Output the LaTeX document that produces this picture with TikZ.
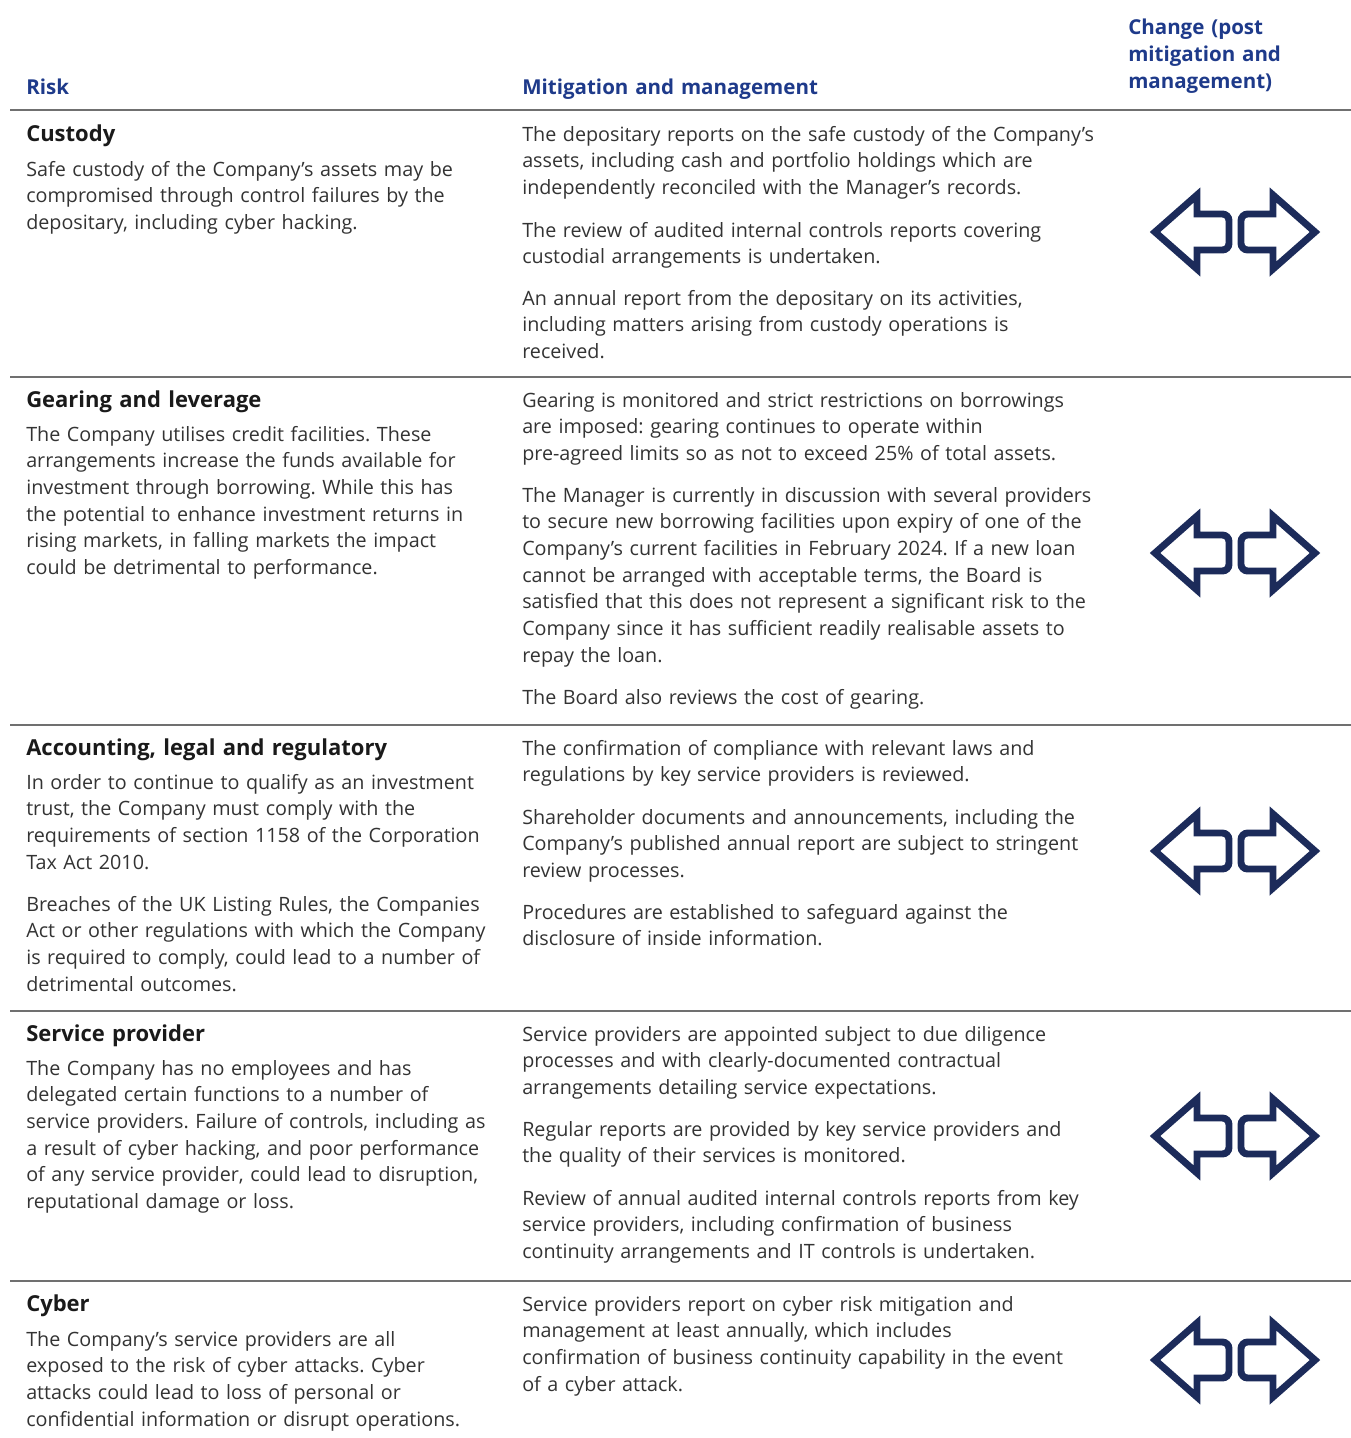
\documentclass[tikz,border=0pt]{standalone}
\usepackage{fontspec}
\setmainfont{Open Sans}
\frenchspacing
\definecolor{hdrblue}{HTML}{1E3A8A}
\definecolor{navy}{HTML}{1C2B5A}
\definecolor{bodytxt}{HTML}{333333}
\definecolor{headtxt}{HTML}{1A1A1A}
\definecolor{rulegray}{HTML}{707070}
\tikzset{
  bodypara/.style={anchor=base west, inner sep=0pt, text width=500pt, align=left,
    font=\fontsize{14.8pt}{20pt}\selectfont, text=bodytxt},
  riskhead/.style={anchor=base west, inner sep=0pt, text width=500pt, align=left,
    font=\fontsize{16.5pt}{20pt}\selectfont\bfseries, text=headtxt},
  colhead/.style={anchor=base west, inner sep=0pt, text width=300pt, align=left,
    font=\fontsize{15.4pt}{20.2pt}\selectfont\bfseries, text=hdrblue},
  sep/.style={draw=rulegray, line width=1.2pt},
  chgicon/.pic={
    \draw[navy, line width=5.2pt, line join=miter, miter limit=10]
      (-80,0) -- (-38,-37) -- (-38,-18) [rounded corners=5pt] -- (-6,-18) -- (-6,18) [sharp corners] -- (-38,18) -- (-38,37) -- cycle;
    \draw[navy, line width=5.2pt, line join=miter, miter limit=10]
      (80,0) -- (38,-37) -- (38,-18) [rounded corners=5pt] -- (6,-18) -- (6,18) [sharp corners] -- (38,18) -- (38,37) -- cycle;
  }
}
\begin{document}
\begin{tikzpicture}[x=0.75pt, y=-0.75pt]
\useasboundingbox (0,0) rectangle (1351,1438);
% column headers
\node[colhead] (hrisk) at (26,94) {Risk};
\node[colhead] (hmit) at (522,94) {Mitigation and management};
\node[colhead] (hchg) at (1128,35) {Change (post\\ mitigation and\\ management)};
% separators
\coordinate (s0a) at (10,110); \coordinate (s0b) at (1351,110);
\coordinate (s1a) at (10,377); \coordinate (s1b) at (1351,377);
\coordinate (s2a) at (10,725); \coordinate (s2b) at (1351,725);
\coordinate (s3a) at (10,1011); \coordinate (s3b) at (1351,1011);
\coordinate (s4a) at (10,1281); \coordinate (s4b) at (1351,1281);
\draw[sep] (s0a) -- (s0b);
\draw[sep] (s1a) -- (s1b);
\draw[sep] (s2a) -- (s2b);
\draw[sep] (s3a) -- (s3b);
\draw[sep] (s4a) -- (s4b);
% Row 1
\node[riskhead] (r1h) at (26,141) {Custody};
\node[bodypara] (r1l) at (26,176) {Safe custody of the Company’s assets may be\\ compromised through control failures by the\\ depositary, including cyber hacking.};
\node[bodypara] (r1a) at (522,141) {The depositary reports on the safe custody of the Company’s\\ assets, including cash and portfolio holdings which are\\ independently reconciled with the Manager’s records.};
\node[bodypara] (r1b) at (522,237) {The review of audited internal controls reports covering\\ custodial arrangements is undertaken.};
\node[bodypara] (r1c) at (522,305) {An annual report from the depositary on its activities,\\ including matters arising from custody operations is\\ received.};
\pic (i1) at (1235,232) {chgicon};
% Row 2
\node[riskhead] (r2h) at (26,407) {Gearing and leverage};
\node[bodypara] (r2l) at (26,441) {The Company utilises credit facilities. These\\ arrangements increase the funds available for\\ investment through borrowing. While this has\\ the potential to enhance investment returns in\\ rising markets, in falling markets the impact\\ could be detrimental to performance.};
\node[bodypara] (r2a) at (522,407) {Gearing is monitored and strict restrictions on borrowings\\ are imposed: gearing continues to operate within\\ pre-agreed limits so as not to exceed 25\% of total assets.};
\node[bodypara] (r2b) at (522,502) {The Manager is currently in discussion with several providers\\ to secure new borrowing facilities upon expiry of one of the\\ Company’s current facilities in February 2024. If a new loan\\ cannot be arranged with acceptable terms, the Board is\\ satisfied that this does not represent a significant risk to the\\ Company since it has sufficient readily realisable assets to\\ repay the loan.};
\node[bodypara] (r2c) at (522,704) {The Board also reviews the cost of gearing.};
\pic (i2) at (1235,553) {chgicon};
% Row 3
\node[riskhead] (r3h) at (26,755) {Accounting, legal and regulatory};
\node[bodypara] (r3l) at (26,789) {In order to continue to qualify as an investment\\ trust, the Company must comply with the\\ requirements of section 1158 of the Corporation\\ Tax Act 2010.};
\node[bodypara] (r3m) at (26,911) {Breaches of the UK Listing Rules, the Companies\\ Act or other regulations with which the Company\\ is required to comply, could lead to a number of\\ detrimental outcomes.};
\node[bodypara] (r3a) at (522,755) {The confirmation of compliance with relevant laws and\\ regulations by key service providers is reviewed.};
\node[bodypara] (r3b) at (522,824) {Shareholder documents and announcements, including the\\ Company’s published annual report are subject to stringent\\ review processes.};
\node[bodypara] (r3c) at (522,919) {Procedures are established to safeguard against the\\ disclosure of inside information.};
\pic (i3) at (1235,851) {chgicon};
% Row 4
\node[riskhead] (r4h) at (26,1041) {Service provider};
\node[bodypara] (r4l) at (26,1075) {The Company has no employees and has\\ delegated certain functions to a number of\\ service providers. Failure of controls, including as\\ a result of cyber hacking, and poor performance\\ of any service provider, could lead to disruption,\\ reputational damage or loss.};
\node[bodypara] (r4a) at (522,1041) {Service providers are appointed subject to due diligence\\ processes and with clearly-documented contractual\\ arrangements detailing service expectations.};
\node[bodypara] (r4b) at (522,1136) {Regular reports are provided by key service providers and\\ the quality of their services is monitored.};
\node[bodypara] (r4c) at (522,1205) {Review of annual audited internal controls reports from key\\ service providers, including confirmation of business\\ continuity arrangements and IT controls is undertaken.};
\pic (i4) at (1235,1136) {chgicon};
% Row 5
\node[riskhead] (r5h) at (26,1311) {Cyber};
\node[bodypara] (r5l) at (26,1346) {The Company’s service providers are all\\ exposed to the risk of cyber attacks. Cyber\\ attacks could lead to loss of personal or\\ confidential information or disrupt operations.};
\node[bodypara] (r5a) at (522,1311) {Service providers report on cyber risk mitigation and\\ management at least annually, which includes\\ confirmation of business continuity capability in the event\\ of a cyber attack.};
\pic (i5) at (1235,1360) {chgicon};
\end{tikzpicture}
\end{document}
